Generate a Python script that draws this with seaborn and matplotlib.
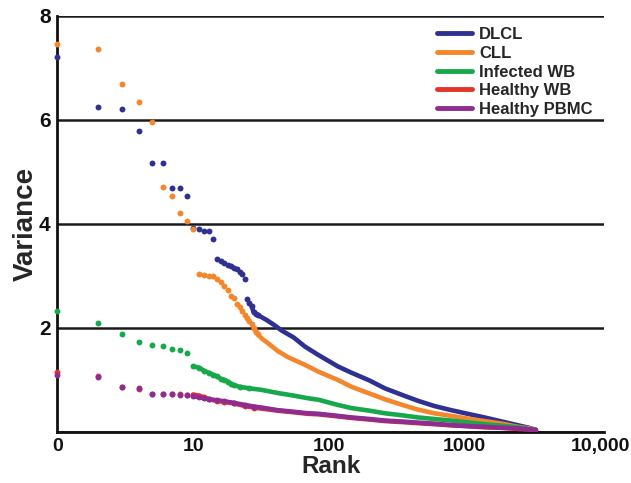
import matplotlib
matplotlib.use("Agg")
import matplotlib.pyplot as plt
import seaborn as sns
import pandas as pd
from matplotlib.lines import Line2D

# ---- data ----
series = ["DLCL", "CLL", "Infected WB", "Healthy WB", "Healthy PBMC"]
colors = ["#2e3192", "#f4862b", "#17a84b", "#e5322b", "#8e2c92"]

dlcl_rank = [1, 2, 3, 4, 5, 6, 7, 8, 9, 10, 11, 12, 13, 14, 15, 16, 17, 18, 19, 20,
             21, 22, 23, 24, 25, 26, 27, 28, 29, 30, 35, 40, 45, 55, 67, 84, 117, 147,
             200, 259, 350, 455, 600, 800, 1100, 1408, 1900, 2478, 3000, 3373]
dlcl_var = [7.22, 6.25, 6.21, 5.79, 5.18, 5.17, 4.70, 4.70, 4.53, 3.92, 3.90, 3.87, 3.86,
            3.72, 3.32, 3.29, 3.25, 3.21, 3.19, 3.16, 3.13, 3.08, 3.03, 2.94, 2.55, 2.48,
            2.42, 2.30, 2.27, 2.25, 2.15, 2.05, 1.95, 1.82, 1.64, 1.48, 1.26, 1.14, 0.99,
            0.84, 0.71, 0.60, 0.50, 0.42, 0.34, 0.28, 0.20, 0.13, 0.08, 0.04]

cll_rank = [1, 2, 3, 4, 5, 6, 7, 8, 9, 10, 11, 12, 13, 14, 15, 16, 17, 18, 19, 20,
            21, 22, 23, 24, 25, 26, 27, 28, 29, 30, 32, 36, 42, 50, 67, 84, 117, 147,
            200, 259, 350, 455, 600, 800, 1100, 1408, 1900, 2478, 3000, 3373]
cll_var = [7.46, 7.36, 6.69, 6.35, 5.96, 4.71, 4.54, 4.21, 4.06, 3.91, 3.04, 3.02, 3.00,
           2.99, 2.95, 2.89, 2.80, 2.73, 2.62, 2.57, 2.47, 2.40, 2.33, 2.25, 2.20, 2.13,
           2.07, 2.00, 1.93, 1.88, 1.80, 1.70, 1.56, 1.44, 1.29, 1.16, 1.00, 0.87, 0.74,
           0.63, 0.52, 0.43, 0.36, 0.31, 0.25, 0.21, 0.16, 0.10, 0.07, 0.04]

inf_rank = [1, 2, 3, 4, 5, 6, 7, 8, 9, 10, 11, 12, 13, 14, 15, 16, 17, 18, 19, 20,
            22, 26, 32, 42, 55, 70, 84, 117, 147, 200, 259, 350, 455, 600, 800, 1100,
            1408, 1900, 2478, 3000, 3373]
inf_var = [2.33, 2.10, 1.88, 1.74, 1.67, 1.65, 1.60, 1.58, 1.51, 1.26, 1.24, 1.18, 1.14,
           1.10, 1.07, 1.02, 1.00, 0.97, 0.93, 0.90, 0.87, 0.84, 0.81, 0.75, 0.70, 0.65,
           0.62, 0.52, 0.46, 0.41, 0.36, 0.32, 0.28, 0.25, 0.22, 0.18, 0.15, 0.12, 0.09,
           0.06, 0.04]

hwb_rank = [1, 2, 3, 4, 5, 6, 7, 8, 9, 10, 11, 12, 13, 15, 17, 20, 24, 28, 32, 42, 55,
            70, 84, 117, 147, 200, 259, 350, 455, 600, 800, 1100, 1408, 1900, 2478,
            3000, 3373]
hwb_var = [1.15, 1.08, 0.87, 0.82, 0.74, 0.74, 0.73, 0.73, 0.72, 0.72, 0.70, 0.67, 0.63,
           0.60, 0.58, 0.55, 0.50, 0.47, 0.45, 0.41, 0.38, 0.35, 0.34, 0.30, 0.27, 0.24,
           0.21, 0.19, 0.17, 0.15, 0.13, 0.11, 0.09, 0.08, 0.06, 0.05, 0.03]

pbmc_rank = [1, 2, 3, 4, 5, 6, 7, 8, 9, 10, 11, 12, 13, 15, 17, 20, 24, 28, 32, 42, 55,
             70, 84, 117, 147, 200, 259, 350, 455, 600, 800, 1100, 1408, 1900, 2478,
             3000, 3373]
pbmc_var = [1.09, 1.06, 0.86, 0.84, 0.74, 0.74, 0.73, 0.72, 0.71, 0.69, 0.67, 0.65, 0.63,
            0.61, 0.59, 0.56, 0.52, 0.49, 0.47, 0.42, 0.39, 0.36, 0.35, 0.31, 0.28, 0.25,
            0.22, 0.20, 0.18, 0.16, 0.13, 0.11, 0.10, 0.08, 0.07, 0.05, 0.04]

x_ticks = [1, 10, 100, 1000, 10000]
x_ticklabels = ["0", "10", "100", "1000", "10,000"]
y_ticks = [0, 2, 4, 6, 8]
y_ticklabels = ["", "2", "4", "6", "8"]

# rank from which each series reads as a continuous line
line_start = [27, 28, 10, 10, 10]

frames = []
for name, r, v in zip(series,
                      [dlcl_rank, cll_rank, inf_rank, hwb_rank, pbmc_rank],
                      [dlcl_var, cll_var, inf_var, hwb_var, pbmc_var]):
    frames.append(pd.DataFrame({"rank": r, "variance": v, "sample": name}))
df = pd.concat(frames, ignore_index=True)

sns.set_style("white")
plt.rcParams["font.family"] = ["Liberation Sans", "DejaVu Sans"]
plt.rcParams["font.weight"] = "bold"

fig = plt.figure(figsize=(6.31, 4.83), dpi=100)
ax = fig.add_axes([0.0911, 0.1056, 0.866, 0.8614])
ax.set_xscale("log")

for name, col, start in zip(series, colors, line_start):
    sub = df[df["sample"] == name]
    sns.lineplot(data=sub[sub["rank"] >= start], x="rank", y="variance",
                 color=col, linewidth=3.3, estimator=None, sort=True, ax=ax,
                 zorder=3)
    sns.scatterplot(data=sub[sub["rank"] <= 30], x="rank", y="variance",
                    color=col, s=18, linewidth=0, ax=ax, zorder=4, clip_on=False)

ax.set_xlim(1, 10700)
ax.set_ylim(0, 8)

ax.set_xticks(x_ticks)
ax.set_xticklabels(x_ticklabels, fontsize=14, fontweight="bold")
ax.xaxis.set_minor_locator(matplotlib.ticker.NullLocator())
ax.set_yticks(y_ticks)
ax.set_yticklabels(y_ticklabels, fontsize=15, fontweight="bold")
ax.set_yticks([1, 3, 5, 7], minor=True)

ax.tick_params(axis="x", which="major", direction="out", length=3, width=1.5,
               pad=1, colors="#111111")
ax.tick_params(axis="y", which="major", direction="out", length=3, width=1.5,
               pad=2, colors="#111111")
ax.tick_params(axis="y", which="minor", direction="out", length=4, width=1.2,
               colors="#111111")

ax.yaxis.grid(True, which="major", color="#1a1a1a", linewidth=1.8, zorder=1)
ax.xaxis.grid(False)
ax.set_axisbelow(True)

for side in ["top", "right"]:
    ax.spines[side].set_visible(False)
for side in ["left", "bottom"]:
    ax.spines[side].set_color("#111111")
    ax.spines[side].set_linewidth(2.0)

ax.set_xlabel("Rank", fontsize=17.5, fontweight="bold", labelpad=0)
ax.set_ylabel("Variance", fontsize=20, fontweight="bold", labelpad=0)

handles = [Line2D([0], [0], color=c, linewidth=3.5) for c in colors]
leg = ax.legend(handles, series, loc="upper left", bbox_to_anchor=(0.68, 0.993),
                frameon=False, borderpad=0, handlelength=2.1, handletextpad=0.4,
                labelspacing=0.22, prop={"size": 12, "weight": "bold"})

fig.savefig("out.png", dpi=100)
